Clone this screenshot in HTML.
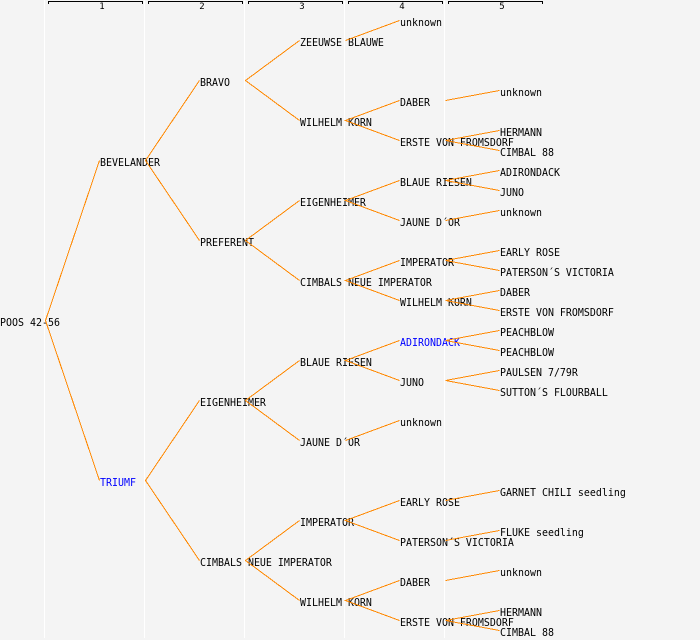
<!DOCTYPE html>
<html><head><meta charset="utf-8"><style>
html,body{margin:0;padding:0;background:#f4f4f4;}
svg{display:block;}
text{font-family:"DejaVu Sans Mono","Liberation Mono",monospace;font-size:11px;fill:#000;}
.n{font-size:9px;}
.b{fill:#0000ff;}
</style></head><body>
<svg width="700" height="640" viewBox="0 0 700 640" xmlns="http://www.w3.org/2000/svg">
<rect width="700" height="640" fill="#f4f4f4"/>
<g stroke="#ffffff" stroke-width="1" shape-rendering="crispEdges">
<line x1="44.5" y1="0" x2="44.5" y2="638"/>
<line x1="144.5" y1="0" x2="144.5" y2="638"/>
<line x1="244.5" y1="0" x2="244.5" y2="638"/>
<line x1="344.5" y1="0" x2="344.5" y2="638"/>
<line x1="444.5" y1="0" x2="444.5" y2="638"/>
</g>
<g stroke="#000" stroke-width="1" fill="none" shape-rendering="crispEdges">
<path d="M48.5 4V1.5H142.5V4"/>
<path d="M148.5 4V1.5H242.5V4"/>
<path d="M248.5 4V1.5H342.5V4"/>
<path d="M348.5 4V1.5H442.5V4"/>
<path d="M448.5 4V1.5H542.5V4"/>
</g>
<g text-anchor="middle">
<text class="n" x="102" y="9">1</text>
<text class="n" x="202" y="9">2</text>
<text class="n" x="302" y="9">3</text>
<text class="n" x="402" y="9">4</text>
<text class="n" x="502" y="9">5</text>
</g>
<g>
<text transform="translate(0,326) scale(0.906,1)">POOS 42-56</text>

<text transform="translate(100,166) scale(0.906,1)">BEVELANDER</text>
<text class="b" transform="translate(100,486) scale(0.906,1)">TRIUMF</text>

<text transform="translate(200,86) scale(0.906,1)">BRAVO</text>
<text transform="translate(200,246) scale(0.906,1)">PREFERENT</text>
<text transform="translate(200,406) scale(0.906,1)">EIGENHEIMER</text>
<text transform="translate(200,566) scale(0.906,1)">CIMBALS NEUE IMPERATOR</text>

<text transform="translate(300,46) scale(0.906,1)">ZEEUWSE BLAUWE</text>
<text transform="translate(300,126) scale(0.906,1)">WILHELM KORN</text>
<text transform="translate(300,206) scale(0.906,1)">EIGENHEIMER</text>
<text transform="translate(300,286) scale(0.906,1)">CIMBALS NEUE IMPERATOR</text>
<text transform="translate(300,366) scale(0.906,1)">BLAUE RIESEN</text>
<text transform="translate(300,446) scale(0.906,1)">JAUNE D´OR</text>
<text transform="translate(300,526) scale(0.906,1)">IMPERATOR</text>
<text transform="translate(300,606) scale(0.906,1)">WILHELM KORN</text>

<text transform="translate(400,26) scale(0.906,1)">unknown</text>
<text transform="translate(400,106) scale(0.906,1)">DABER</text>
<text transform="translate(400,146) scale(0.906,1)">ERSTE VON FROMSDORF</text>
<text transform="translate(400,186) scale(0.906,1)">BLAUE RIESEN</text>
<text transform="translate(400,226) scale(0.906,1)">JAUNE D´OR</text>
<text transform="translate(400,266) scale(0.906,1)">IMPERATOR</text>
<text transform="translate(400,306) scale(0.906,1)">WILHELM KORN</text>
<text class="b" transform="translate(400,346) scale(0.906,1)">ADIRONDACK</text>
<text transform="translate(400,386) scale(0.906,1)">JUNO</text>
<text transform="translate(400,426) scale(0.906,1)">unknown</text>
<text transform="translate(400,506) scale(0.906,1)">EARLY ROSE</text>
<text transform="translate(400,546) scale(0.906,1)">PATERSON´S VICTORIA</text>
<text transform="translate(400,586) scale(0.906,1)">DABER</text>
<text transform="translate(400,626) scale(0.906,1)">ERSTE VON FROMSDORF</text>

<text transform="translate(500,96) scale(0.906,1)">unknown</text>
<text transform="translate(500,136) scale(0.906,1)">HERMANN</text>
<text transform="translate(500,156) scale(0.906,1)">CIMBAL 88</text>
<text transform="translate(500,176) scale(0.906,1)">ADIRONDACK</text>
<text transform="translate(500,196) scale(0.906,1)">JUNO</text>
<text transform="translate(500,216) scale(0.906,1)">unknown</text>
<text transform="translate(500,256) scale(0.906,1)">EARLY ROSE</text>
<text transform="translate(500,276) scale(0.906,1)">PATERSON´S VICTORIA</text>
<text transform="translate(500,296) scale(0.906,1)">DABER</text>
<text transform="translate(500,316) scale(0.906,1)">ERSTE VON FROMSDORF</text>
<text transform="translate(500,336) scale(0.906,1)">PEACHBLOW</text>
<text transform="translate(500,356) scale(0.906,1)">PEACHBLOW</text>
<text transform="translate(500,376) scale(0.906,1)">PAULSEN 7/79R</text>
<text transform="translate(500,396) scale(0.906,1)">SUTTON´S FLOURBALL</text>
<text transform="translate(500,496) scale(0.906,1)">GARNET CHILI seedling</text>
<text transform="translate(500,536) scale(0.906,1)">FLUKE seedling</text>
<text transform="translate(500,576) scale(0.906,1)">unknown</text>
<text transform="translate(500,616) scale(0.906,1)">HERMANN</text>
<text transform="translate(500,636) scale(0.906,1)">CIMBAL 88</text>
</g>
<g stroke="#ff8800" stroke-width="1" fill="none" shape-rendering="crispEdges">
<path d="M99.5 160.5L45.5 320.5L99.5 480.5"/>
<path d="M199.5 80.5L145.5 160.5L199.5 240.5"/>
<path d="M199.5 400.5L145.5 480.5L199.5 560.5"/>
<path d="M299.5 40.5L245.5 80.5L299.5 120.5"/>
<path d="M299.5 200.5L245.5 240.5L299.5 280.5"/>
<path d="M299.5 360.5L245.5 400.5L299.5 440.5"/>
<path d="M299.5 520.5L245.5 560.5L299.5 600.5"/>
<path d="M345.5 40.5L399.5 20.5"/>
<path d="M399.5 100.5L345.5 120.5L399.5 140.5"/>
<path d="M399.5 180.5L345.5 200.5L399.5 220.5"/>
<path d="M399.5 260.5L345.5 280.5L399.5 300.5"/>
<path d="M399.5 340.5L345.5 360.5L399.5 380.5"/>
<path d="M345.5 440.5L399.5 420.5"/>
<path d="M399.5 500.5L345.5 520.5L399.5 540.5"/>
<path d="M399.5 580.5L345.5 600.5L399.5 620.5"/>
<path d="M445.5 100.5L499.5 90.5"/>
<path d="M499.5 130.5L445.5 140.5L499.5 150.5"/>
<path d="M499.5 170.5L445.5 180.5L499.5 190.5"/>
<path d="M445.5 220.5L499.5 210.5"/>
<path d="M499.5 250.5L445.5 260.5L499.5 270.5"/>
<path d="M499.5 290.5L445.5 300.5L499.5 310.5"/>
<path d="M499.5 330.5L445.5 340.5L499.5 350.5"/>
<path d="M499.5 370.5L445.5 380.5L499.5 390.5"/>
<path d="M445.5 500.5L499.5 490.5"/>
<path d="M445.5 540.5L499.5 530.5"/>
<path d="M445.5 580.5L499.5 570.5"/>
<path d="M499.5 610.5L445.5 620.5L499.5 630.5"/>
</g>
</svg>
</body></html>
